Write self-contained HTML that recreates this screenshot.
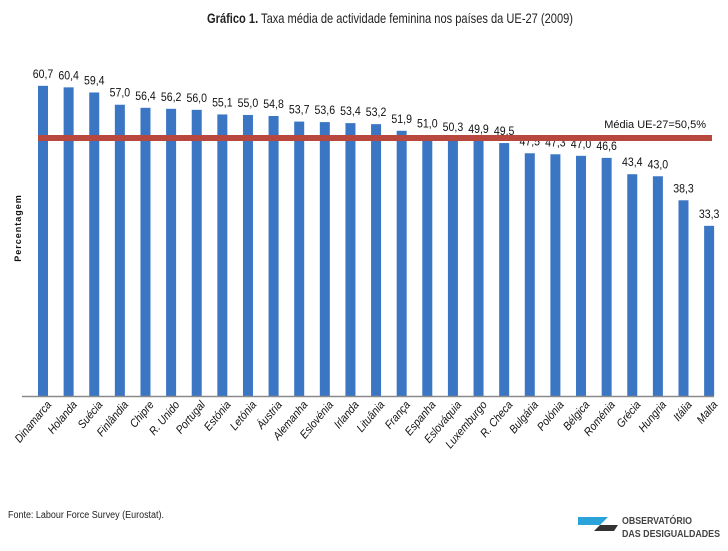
<!DOCTYPE html>
<html><head><meta charset="utf-8"><style>
body{margin:0;background:#fff;width:728px;height:546px;overflow:hidden;font-family:"Liberation Sans",sans-serif}
</style></head><body>
<svg width="728" height="546" xmlns="http://www.w3.org/2000/svg">
<text x="390" y="23" text-anchor="middle" font-size="14" fill="#222" textLength="366" lengthAdjust="spacingAndGlyphs"><tspan font-weight="bold">Gráfico 1.</tspan> Taxa média de actividade feminina nos países da UE-27 (2009)</text>
<text transform="translate(21,228) rotate(-90)" text-anchor="middle" font-size="9" font-weight="bold" letter-spacing="1" fill="#111">Percentagem</text>
<g id="bars"></g>
<line x1="22" y1="396.5" x2="714" y2="396.5" stroke="#8a8a8a" stroke-width="1.5"/>
<text x="8" y="518" font-size="10" fill="#222" textLength="156" lengthAdjust="spacingAndGlyphs">Fonte: Labour Force Survey (Eurostat).</text>
<g>
<polygon points="578,517 608,517 600,525 578,525" fill="#29a3d9"/>
<polygon points="600,525 618,525 614,531 594,531" fill="#333"/>
<text x="622" y="524" font-size="10" font-weight="bold" fill="#444" textLength="70" lengthAdjust="spacingAndGlyphs">OBSERVATÓRIO</text>
<text x="622" y="537" font-size="10" font-weight="bold" fill="#444" textLength="98" lengthAdjust="spacingAndGlyphs">DAS DESIGUALDADES</text>
</g>
</svg>
<script>
const categories=["Dinamarca","Holanda","Suécia","Finlândia","Chipre","R. Unido","Portugal","Estónia","Letónia","Áustria","Alemanha","Eslovénia","Irlanda","Lituânia","França","Espanha","Eslováquia","Luxemburgo","R. Checa","Bulgária","Polónia","Bélgica","Roménia","Grécia","Hungria","Itália","Malta"];
const values=[60.7,60.4,59.4,57.0,56.4,56.2,56.0,55.1,55.0,54.8,53.7,53.6,53.4,53.2,51.9,51.0,50.3,49.9,49.5,47.5,47.3,47.0,46.6,43.4,43.0,38.3,33.3];
const meanValue=[50.5];
const meanLabel=["Média UE-27=50,5%"];
const NS="http://www.w3.org/2000/svg";
const y=v=>396-v*5.11;
const x=i=>43+i*25.62;
const g=document.getElementById('bars');
function mk(t,a){const e=document.createElementNS(NS,t);for(const k in a)e.setAttribute(k,a[k]);return e;}
values.forEach((v,i)=>{
 const r=mk('rect',{x:x(i)-5,y:y(v),width:10,height:396-y(v),fill:'#3a76c4'});
 
 
 g.appendChild(r);
 const t=mk('text',{transform:`translate(${x(i)},${y(v)-8}) scale(0.88,1)`,'text-anchor':'middle','font-size':'12',fill:'#111'});
 t.textContent=v.toFixed(1).replace('.',',');
 
 
 g.appendChild(t);
 const c=mk('text',{transform:`translate(${x(i)+9},405) rotate(-50) scale(0.9,1)`,'text-anchor':'end','font-size':'11.5','font-style':'italic',fill:'#111'});
 c.textContent=categories[i];
 
 
 g.appendChild(c);
});
const ml=mk('line',{x1:38,x2:712,y1:y(meanValue[0]),y2:y(meanValue[0]),stroke:'#b8483e','stroke-width':6});


g.appendChild(ml);
const mt=mk('text',{x:706,y:y(meanValue[0])-10,'text-anchor':'end','font-size':'11',fill:'#111'});
mt.textContent=meanLabel[0];


g.appendChild(mt);
</script>
</body></html>
